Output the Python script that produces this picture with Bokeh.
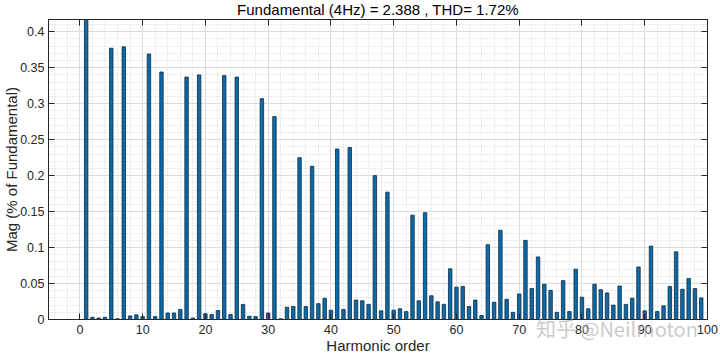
from bokeh.plotting import figure
from bokeh.models import Range1d, SingleIntervalTicker, LinearAxis, ColumnDataSource, Div
from bokeh.layouts import column
from bokeh.embed import file_html
from bokeh.resources import INLINE

# Harmonic order and magnitude (% of fundamental); fundamental (h=1) is clipped at the top
harmonic = list(range(0, 100))
magnitude = [
    0.0, 100.0, 0.003, 0.002, 0.003, 0.377, 0.001, 0.379, 0.005, 0.0065,
    0.004, 0.369, 0.004, 0.344, 0.009, 0.009, 0.014, 0.337, 0.002, 0.340,
    0.008, 0.007, 0.0125, 0.339, 0.007, 0.337, 0.021, 0.0045, 0.004, 0.307,
    0.009, 0.282, 0.001, 0.017, 0.018, 0.225, 0.018, 0.213, 0.022, 0.0295,
    0.013, 0.237, 0.014, 0.239, 0.027, 0.026, 0.021, 0.200, 0.012, 0.177,
    0.013, 0.015, 0.011, 0.145, 0.026, 0.1485, 0.033, 0.0245, 0.021, 0.0705,
    0.045, 0.046, 0.018, 0.027, 0.0055, 0.104, 0.024, 0.124, 0.028, 0.010,
    0.0355, 0.110, 0.043, 0.087, 0.049, 0.0405, 0.010, 0.054, 0.011, 0.070,
    0.031, 0.015, 0.049, 0.0415, 0.037, 0.020, 0.0465, 0.021, 0.0295, 0.073,
    0.012, 0.102, 0.011, 0.019, 0.046, 0.094, 0.042, 0.057, 0.043, 0.030,
]
title_text = "Fundamental (4Hz) = 2.388 , THD= 1.72%"
x_label = "Harmonic order"
y_label = "Mag (% of Fundamental)"
watermark = "知乎 @Neilmoton"

FONT = "Liberation Sans"
AX = "#262626"

src = ColumnDataSource(dict(h=harmonic, mag=magnitude))

p = figure(width=720, height=356, output_backend="svg", toolbar_location=None,
           x_range=Range1d(-5, 100), y_range=Range1d(0, 0.417),
           min_border_left=0, min_border_right=13, min_border_top=0, min_border_bottom=0,
           background_fill_color="white", border_fill_color="white")

p.title.text = title_text
p.title.text_font = FONT
p.title.text_font_size = "15px"
p.title.text_font_style = "normal"
p.title.text_color = "#000000"
p.title.align = "center"
p.title.offset = 0
p.title.standoff = -4

xt = SingleIntervalTicker(interval=10, num_minor_ticks=5)
yt = SingleIntervalTicker(interval=0.05, num_minor_ticks=5)

p.xaxis.ticker = xt
p.yaxis.ticker = yt
for ax in (p.xaxis[0], p.yaxis[0]):
    ax.major_tick_in = 6
    ax.major_tick_out = 0
    ax.minor_tick_line_color = None
    ax.major_tick_line_color = AX
    ax.axis_line_color = AX
    ax.major_label_text_font = FONT
    ax.major_label_text_font_size = "12.5px"
    ax.major_label_text_color = AX
    ax.axis_label_text_font = FONT
    ax.axis_label_text_font_size = "15px"
    ax.axis_label_text_font_style = "normal"
    ax.axis_label_text_color = AX
p.xaxis.axis_label = x_label
p.yaxis.axis_label = y_label
p.xaxis.major_label_standoff = 1
p.xaxis.axis_label_standoff = 0
p.yaxis.major_label_standoff = 0
p.yaxis.axis_label_standoff = -3
p.yaxis.major_label_overrides = {0: "0"}

# top and right axes: ticks only
for loc, tk in (("above", xt), ("right", yt)):
    a = LinearAxis(ticker=tk, major_tick_in=6, major_tick_out=0,
                   minor_tick_line_color=None, major_tick_line_color=AX,
                   axis_line_color=AX, major_label_text_font_size="1px",
                   major_label_text_color=None, major_label_standoff=0)
    p.add_layout(a, loc)

p.outline_line_color = AX
p.outline_line_width = 1

p.grid.grid_line_color = "#dcdcdc"
p.grid.grid_line_width = 1
p.grid.minor_grid_line_color = "#d2d2d2"
p.grid.minor_grid_line_dash = "1 2"
p.grid.minor_grid_line_width = 1

p.vbar(x="h", top="mag", width=0.55, bottom=0, source=src,
       fill_color="#0b6aa8", line_color="#0c2b44", line_width=0.8)

# watermark overlay (absolutely positioned so it does not take layout space)
wm = Div(text=watermark, width=180, height=30,
         styles={"position": "absolute", "left": "531px", "top": "309px",
                 "font-family": "'Noto Sans CJK SC', sans-serif", "font-size": "20px",
                 "line-height": "30px",
                 "color": "rgba(185,185,185,0.75)", "white-space": "nowrap",
                 "overflow": "visible", "pointer-events": "none", "z-index": "10"})

layout = column(p, wm, spacing=0)
open("out.html", "w").write(file_html(layout, INLINE))
